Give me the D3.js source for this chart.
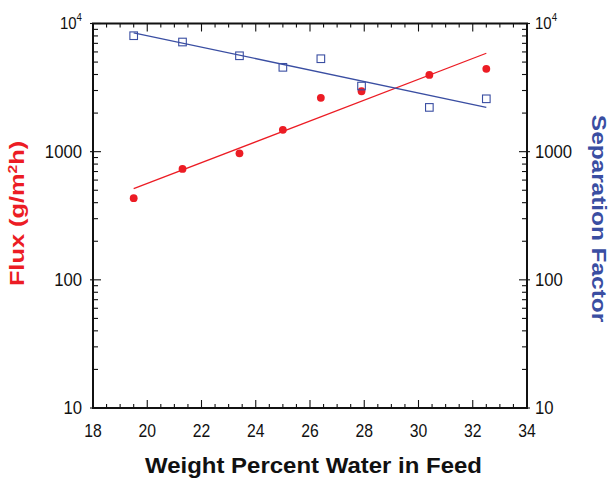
<!DOCTYPE html>
<html><head><meta charset="utf-8">
<script src="https://cdn.jsdelivr.net/npm/d3@7"></script>
<style>body{margin:0;background:#fff}svg{display:block}text{font-family:"Liberation Sans",Arial,sans-serif}</style>
</head><body><svg id="c" width="612" height="480"></svg>
<script>
const waterPct = [19.5, 21.3, 23.4, 25.0, 26.4, 27.9, 30.4, 32.5];
const flux = [434, 733, 970, 1480, 2630, 2960, 3970, 4430];
const sepFactor = [8030, 7170, 5600, 4550, 5310, 3250, 2215, 2585];
const fitX = [19.5, 32.5];
const fitFlux = [514, 5860];
const fitSep = [8460, 2215];
const xTicks = [18, 20, 22, 24, 26, 28, 30, 32, 34];
const yTicks = [10, 100, 1000, 10000];

const RED = "#ec1c24", BLUE = "#3a4ea2";
const svg = d3.select("#c");
const L = 93, R = 527, T = 23.5, B = 408;
const x = d3.scaleLinear().domain([18, 34]).range([L, R]);
const y = d3.scaleLog().domain([10, 10000]).range([B, T]);
const yR = d3.scaleLog().domain([10, 10000]).range([B, T]);

const xMinor = d3.range(18, 34.001, 0.5);
const yMinor = [];
[10, 100, 1000].forEach(d => { for (let k = 2; k <= 9; k++) yMinor.push(d * k); });

const g = svg.append("g").attr("stroke", "#111").attr("stroke-width", 1.1);
xMinor.forEach(v => {
  const len = (Math.abs(v % 2) < 1e-6) ? 8 : 4;
  g.append("line").attr("x1", x(v)).attr("x2", x(v)).attr("y1", B).attr("y2", B - len);
  g.append("line").attr("x1", x(v)).attr("x2", x(v)).attr("y1", T).attr("y2", T + len);
});
yMinor.forEach(v => {
  g.append("line").attr("x1", L).attr("x2", L + 5).attr("y1", y(v)).attr("y2", y(v));
  g.append("line").attr("x1", R).attr("x2", R - 5).attr("y1", yR(v)).attr("y2", yR(v));
});
yTicks.forEach(v => {
  g.append("line").attr("x1", L - 3).attr("x2", L + 8).attr("y1", y(v)).attr("y2", y(v));
  g.append("line").attr("x1", R + 3).attr("x2", R - 8).attr("y1", yR(v)).attr("y2", yR(v));
});
svg.append("rect").attr("x", L).attr("y", T).attr("width", R - L).attr("height", B - T)
  .attr("fill", "none").attr("stroke", "#111").attr("stroke-width", 2);

// tick labels (slightly condensed)
xTicks.forEach(v => {
  svg.append("text").attr("transform", `translate(${x(v)},${B + 29}) scale(0.9,1)`)
    .attr("text-anchor", "middle").attr("font-size", 17.5).attr("fill", "#111").text(v);
});
function yLabel(sel, v) {
  if (v === 10000) {
    sel.append("tspan").attr("font-size", 17).text("10");
    sel.append("tspan").attr("font-size", 11).attr("dy", -8).text("4");
  } else sel.text(v);
}
yTicks.forEach(v => {
  const off = v === 10000 ? 5 : 6;
  const t = svg.append("text").attr("transform", `translate(${L - 11},${y(v) + off}) scale(0.88,1)`)
    .attr("text-anchor", "end").attr("font-size", 19).attr("fill", "#111");
  yLabel(t, v);
  const t2 = svg.append("text").attr("transform", `translate(${R + 8},${yR(v) + off}) scale(0.88,1)`)
    .attr("text-anchor", "start").attr("font-size", 19).attr("fill", "#111");
  yLabel(t2, v);
});

// axis titles
svg.append("text").attr("transform", "translate(313.5,473) scale(1.09,1)").attr("text-anchor", "middle")
  .attr("font-size", 22).attr("font-weight", "bold").attr("fill", "#111")
  .text("Weight Percent Water in Feed");
const ft = svg.append("text").attr("transform", "translate(23.5,213.5) rotate(-90) scale(1.3,1)")
  .attr("text-anchor", "middle").attr("font-size", 19.5).attr("font-weight", "bold").attr("fill", RED);
ft.append("tspan").text("Flux (g/m");
ft.append("tspan").attr("font-size", 12).attr("dy", -7).text("2");
ft.append("tspan").attr("dy", 7).text("h)");
svg.append("text").attr("transform", "translate(592,218.5) rotate(90) scale(1.19,1)")
  .attr("text-anchor", "middle").attr("font-size", 20.5).attr("font-weight", "bold").attr("fill", BLUE)
  .text("Separation Factor");

// fit lines
const line = d3.line();
svg.append("path").attr("d", line(fitX.map((v, i) => [x(v), y(fitFlux[i])])))
  .attr("fill", "none").attr("stroke", RED).attr("stroke-width", 1.3);
svg.append("path").attr("d", line(fitX.map((v, i) => [x(v), yR(fitSep[i])])))
  .attr("fill", "none").attr("stroke", BLUE).attr("stroke-width", 1.3);

// markers
svg.selectAll("circle.f").data(waterPct).join("circle")
  .attr("cx", d => x(d)).attr("cy", (d, i) => y(flux[i])).attr("r", 3.9).attr("fill", RED);
svg.selectAll("rect.s").data(waterPct).join("rect").attr("class", "s")
  .attr("x", d => x(d) - 3.8).attr("y", (d, i) => yR(sepFactor[i]) - 3.8)
  .attr("width", 7.6).attr("height", 7.6).attr("fill", "none").attr("stroke", BLUE).attr("stroke-width", 1.1);
</script></body></html>
